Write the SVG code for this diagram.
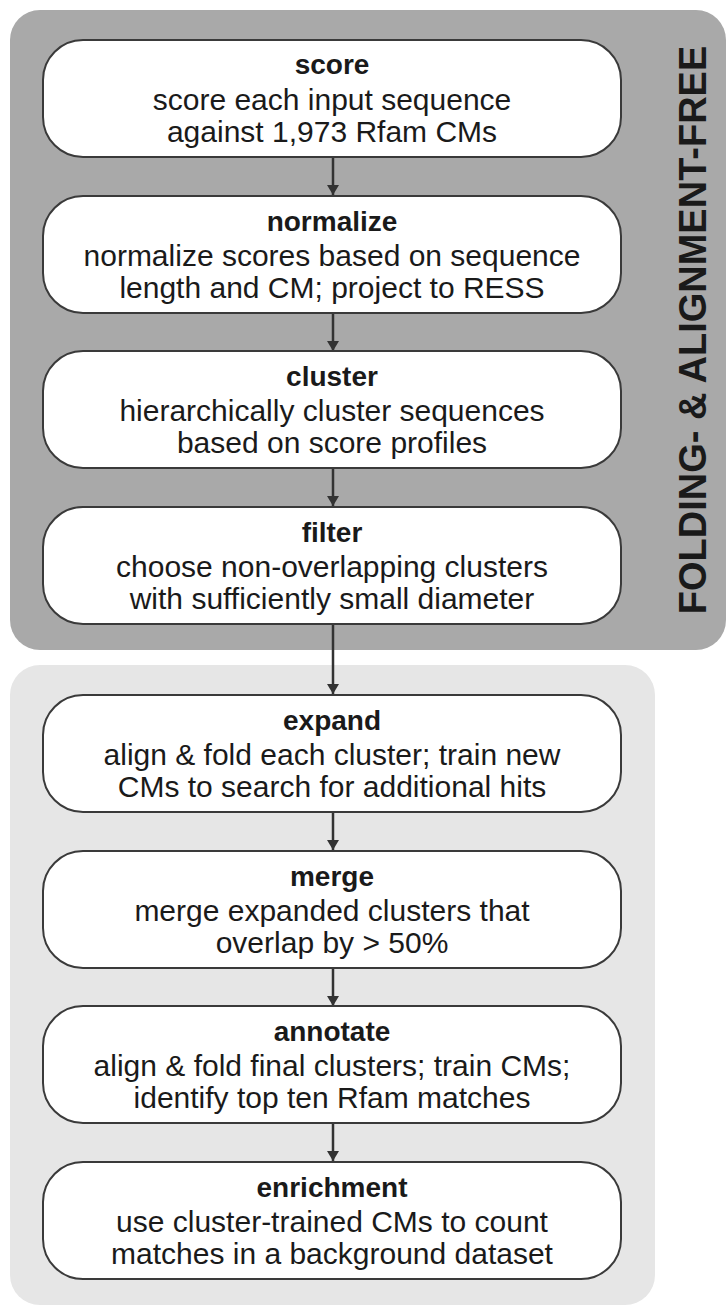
<svg xmlns="http://www.w3.org/2000/svg" width="728" height="1307" viewBox="0 0 728 1307">
<style>
.panel-dark{fill:#a9a9a9}
.panel-light{fill:#e6e6e6}
.box{fill:#ffffff;stroke:#3a3a3a;stroke-width:2}
.t{font-family:"Liberation Sans",Arial,sans-serif;font-weight:bold;font-size:28px;fill:#1a1a1a;text-anchor:middle}
.b{font-family:"Liberation Sans",Arial,sans-serif;font-size:30px;fill:#1a1a1a;text-anchor:middle}
.side{font-family:"Liberation Sans",Arial,sans-serif;font-weight:bold;font-size:38px;fill:#1a1a1a;text-anchor:middle}
.conn{stroke:#333333;stroke-width:2.5;fill:none}
</style>
<defs>
<marker id="ah" viewBox="0 0 10 12" refX="10" refY="6" markerWidth="10" markerHeight="12" markerUnits="userSpaceOnUse" orient="auto">
<path d="M0,0 L10,6 L0,12 z" fill="#333333"/>
</marker>
</defs>
<g id="panel-folding">
<rect class="panel-dark" x="10" y="10" width="716" height="640" rx="30"/>
<text class="side" transform="translate(706,330) rotate(-90)">FOLDING- &amp; ALIGNMENT-FREE</text>
</g>
<g id="panel-alignment">
<rect class="panel-light" x="10" y="665" width="645" height="640" rx="30"/>
</g>
<g id="connectors">
<line class="conn" x1="333" y1="157" x2="333" y2="195" marker-end="url(#ah)"/>
<line class="conn" x1="333" y1="313" x2="333" y2="351" marker-end="url(#ah)"/>
<line class="conn" x1="333" y1="468" x2="333" y2="506" marker-end="url(#ah)"/>
<line class="conn" x1="333" y1="624" x2="333" y2="694" marker-end="url(#ah)"/>
<line class="conn" x1="333" y1="812" x2="333" y2="850" marker-end="url(#ah)"/>
<line class="conn" x1="333" y1="968" x2="333" y2="1006" marker-end="url(#ah)"/>
<line class="conn" x1="333" y1="1123" x2="333" y2="1161" marker-end="url(#ah)"/>
</g>
<g id="score">
<rect class="box" x="43" y="40" width="578" height="117" rx="40"/>
<text class="t" x="332" y="74">score</text>
<text class="b" x="332" y="110">score each input sequence</text>
<text class="b" x="332" y="142">against 1,973 Rfam CMs</text>
</g>
<g id="normalize">
<rect class="box" x="43" y="196" width="578" height="117" rx="40"/>
<text class="t" x="332" y="231">normalize</text>
<text class="b" x="332" y="266">normalize scores based on sequence</text>
<text class="b" x="332" y="298">length and CM; project to RESS</text>
</g>
<g id="cluster">
<rect class="box" x="43" y="351" width="578" height="117" rx="40"/>
<text class="t" x="332" y="386">cluster</text>
<text class="b" x="332" y="421">hierarchically cluster sequences</text>
<text class="b" x="332" y="453">based on score profiles</text>
</g>
<g id="filter">
<rect class="box" x="43" y="507" width="578" height="117" rx="40"/>
<text class="t" x="332" y="542">filter</text>
<text class="b" x="332" y="577">choose non-overlapping clusters</text>
<text class="b" x="332" y="609">with sufficiently small diameter</text>
</g>
<g id="expand">
<rect class="box" x="43" y="695" width="578" height="117" rx="40"/>
<text class="t" x="332" y="730">expand</text>
<text class="b" x="332" y="765">align &amp; fold each cluster; train new</text>
<text class="b" x="332" y="797">CMs to search for additional hits</text>
</g>
<g id="merge">
<rect class="box" x="43" y="851" width="578" height="117" rx="40"/>
<text class="t" x="332" y="886">merge</text>
<text class="b" x="332" y="921">merge expanded clusters that</text>
<text class="b" x="332" y="953">overlap by &gt; 50%</text>
</g>
<g id="annotate">
<rect class="box" x="43" y="1006" width="578" height="117" rx="40"/>
<text class="t" x="332" y="1041">annotate</text>
<text class="b" x="332" y="1076">align &amp; fold final clusters; train CMs;</text>
<text class="b" x="332" y="1108">identify top ten Rfam matches</text>
</g>
<g id="enrichment">
<rect class="box" x="43" y="1162" width="578" height="117" rx="40"/>
<text class="t" x="332" y="1197">enrichment</text>
<text class="b" x="332" y="1232">use cluster-trained CMs to count</text>
<text class="b" x="332" y="1264">matches in a background dataset</text>
</g>
</svg>
